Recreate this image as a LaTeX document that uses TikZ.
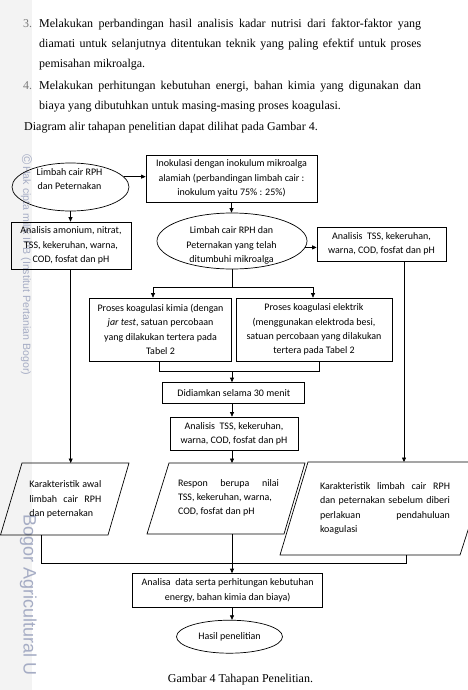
\documentclass[tikz,border=0pt]{standalone}
\usepackage{fontspec}
\setmainfont{Liberation Serif}
\newfontfamily\flowfont{Carlito}
\newfontfamily\wmfont{Liberation Sans}
\usetikzlibrary{arrows.meta,shapes.geometric}
\definecolor{wmcol}{RGB}{165,172,196}
\definecolor{bandcol}{RGB}{243,243,243}
\definecolor{numcol}{RGB}{120,120,120}
\newcommand\flowtext{\flowfont\fontsize{10}{14.3}\selectfont}
\newcommand\bodytext{\fontsize{12}{14}\selectfont}
\begin{document}
\begin{tikzpicture}[x=1pt,y=-1pt,
  box/.style={draw, line width=0.7pt, rectangle, inner sep=0pt, align=center, font=\flowtext},
  ovalbox/.style={draw, line width=0.7pt, ellipse, inner sep=0pt, font=\flowtext},
  txt/.style={inner sep=0pt, align=center, font=\flowtext},
  ltxt/.style={inner sep=0pt, align=left, font=\flowtext},
  shp/.style={draw, line width=0.7pt, line join=miter},
  ln/.style={line width=0.7pt},
  arr/.style={line width=0.7pt, -{Triangle[length=4.5pt,width=4pt]}},
  body/.style={inner sep=0pt, anchor=base west, font=\bodytext},
  wm/.style={inner sep=0pt, anchor=west, rotate=-90, text=wmcol}
]
\useasboundingbox (0,0) rectangle (468,690);
% left band and watermark
\fill[bandcol] (0,0) rectangle (32,690);
\node[wm, font=\wmfont\fontsize{10.6}{11}\selectfont] (wm1) at (26.5,154) {{\fontsize{14}{14}\selectfont\raisebox{-1pt}{©}}\,Hak cipta milik IPB (Institut Pertanian Bogor)};
\node[wm, font=\wmfont\fontsize{18}{18}\selectfont] (wm2) at (28.3,514) {Bogor Agricultural U};

% top text
\node[body, text=numcol] (n3) at (23,28) {3.};
\node[body] (t1) at (39,28) {\makebox[382pt][s]{Melakukan perbandingan hasil analisis kadar nutrisi dari faktor-faktor yang}};
\node[body] (t2) at (39,48) {\makebox[382pt][s]{diamati untuk selanjutnya ditentukan teknik yang paling efektif untuk proses}};
\node[body] (t3) at (39,68) {pemisahan mikroalga.};
\node[body, text=numcol] (n4) at (23,90) {4.};
\node[body] (t4) at (39,90) {\makebox[382pt][s]{Melakukan perhitungan kebutuhan energi, bahan kimia yang digunakan dan}};
\node[body] (t5) at (39,110) {biaya yang dibutuhkan untuk masing-masing proses koagulasi.};
\node[body] (t6) at (24,130) {Diagram alir tahapan penelitian dapat dilihat pada Gambar 4.};

% flowchart nodes
\node[ovalbox, minimum width=117pt, minimum height=48pt] (ell1) at (70.5,187) {};
\node[txt] (ell1t) at (69.5,179) {Limbah cair RPH\\dan Peternakan};
\node[box, minimum width=171pt, minimum height=47pt] (inok) at (231.5,178.5) {Inokulasi dengan inokulum mikroalga\\alamiah (perbandingan limbah cair :\\inokulum yaitu 75\% : 25\%)};
\node[box, minimum width=120pt, minimum height=47pt] (amon) at (71,245.5) {Analisis amonium, nitrat,\\TSS, kekeruhan, warna,\\COD, fosfat dan pH};
\node[ovalbox, minimum width=150pt, minimum height=56pt] (ell2) at (232,241) {};
\node[txt] (ell2t) at (231.5,245.5) {Limbah cair RPH dan\\Peternakan yang telah\\ditumbuhi mikroalga};
\node[box, minimum width=129pt, minimum height=34pt] (rbox) at (381.5,244) {Analisis\ \ TSS, kekeruhan,\\warna, COD, fosfat dan pH};
\node[box, minimum width=142pt, minimum height=63pt] (chem) at (160.5,329.5) {Proses koagulasi kimia (dengan\\\textit{jar test}, satuan percobaan\\yang dilakukan tertera pada\\Tabel 2};
\node[box, minimum width=156pt, minimum height=63pt] (elec) at (314,329.5) {Proses koagulasi elektrik\\(menggunakan elektroda besi,\\satuan percobaan yang dilakukan\\tertera pada Tabel 2};
\node[box, minimum width=142pt, minimum height=21pt] (didi) at (233.8,393) {Didiamkan selama 30 menit};
\node[box, minimum width=128pt, minimum height=33pt] (mid) at (234,433.5) {Analisis\ \ TSS, kekeruhan,\\warna, COD, fosfat dan pH};
\node[box, minimum width=190pt, minimum height=34pt] (ana) at (227.7,590.5) {Analisa\ \ data serta perhitungan kebutuhan\\energy, bahan kimia dan biaya)};
\node[ovalbox, minimum width=106pt, minimum height=33pt] (hasil) at (229.5,636.7) {Hasil penelitian};

% parallelograms
\draw[shp] (22,463) -- (129,463) -- (108,535) -- (0.5,535) -- cycle;
\draw[shp] (169,463) -- (305,463) -- (284,534) -- (147,534) -- cycle;
\draw[shp] (308,462) -- (490,462) -- (460,555) -- (280,555) -- cycle;
\node[ltxt] (kart) at (65.3,499.5) {\makebox[72pt][s]{Karakteristik awal}\\\makebox[72pt][s]{limbah cair RPH}\\dan peternakan};
\node[ltxt] (respt) at (228.5,497.8) {\makebox[101pt][s]{Respon berupa nilai}\\TSS, kekeruhan, warna,\\COD, fosfat dan pH};
\node[ltxt] (kbt) at (385,508.5) {\makebox[130pt][s]{Karakteristik limbah cair RPH}\\\makebox[130pt][s]{dan peternakan sebelum diberi}\\\makebox[130pt][s]{perlakuan pendahuluan}\\koagulasi};

% coordinates
\coordinate (spL) at (153,287);
\coordinate (spR) at (313,287);
\coordinate (mgL) at (159.3,371);
\coordinate (mgR) at (319.3,371);
\coordinate (mgC) at (232,371);
\coordinate (respT) at (232,463);
\coordinate (karT) at (70.7,463);
\coordinate (kbT) at (404,462);
\coordinate (karB) at (41.7,535);
\coordinate (kbB) at (406,555);
\coordinate (respB) at (232,534);
\coordinate (joinL) at (41.7,563);
\coordinate (joinR) at (406,563);

% connectors
\draw[arr] (ell1.11) -- (ell1.11 -| inok.west);
\draw[arr] (ell1.south) -- (ell1.south |- amon.north);
\draw[arr] (inok.south) -- (inok.south |- ell2.north);
\draw[arr] (ell2.-5) -- (ell2.-5 -| rbox.west);
\draw[ln] (ell2.south) -- (ell2.south |- spL);
\draw[ln] (spL) -- (spR);
\draw[arr] (spL) -- (spL |- chem.north);
\draw[arr] (spR) -- (spR |- elec.north);
\draw[ln] (mgL |- chem.south) -- (mgL) -- (mgR) -- (mgR |- elec.south);
\draw[arr] (mgC) -- (mgC |- didi.north);
\draw[arr] (mgC |- didi.south) -- (mgC |- mid.north);
\draw[arr] (mgC |- mid.south) -- (respT);
\draw[arr] (karT |- amon.south) -- (karT);
\draw[arr] (kbT |- rbox.south) -- (kbT);
\draw[ln] (karB) -- (joinL) -- (joinR) -- (kbB);
\draw[arr] (respB) -- (respB |- ana.north);
\draw[arr] (respB |- ana.south) -- (respB |- hasil.north);

% caption
\node[inner sep=0pt, anchor=base, font=\bodytext] (cap) at (240.5,682.5) {Gambar 4 Tahapan Penelitian.};
\end{tikzpicture}
\end{document}
